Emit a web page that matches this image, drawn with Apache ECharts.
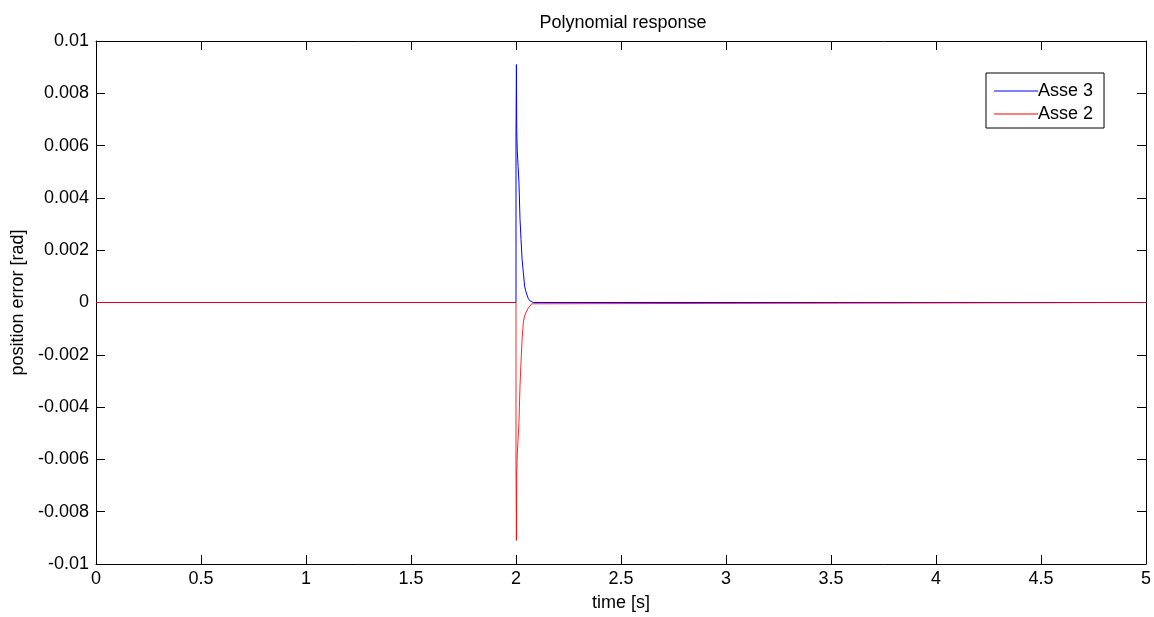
<!DOCTYPE html>
<html>
<head>
<meta charset="utf-8">
<script src="https://cdn.jsdelivr.net/npm/echarts@6/dist/echarts.min.js"></script>
<style>
  html, body { margin: 0; padding: 0; background: #fff; }
  #chart { width: 1154px; height: 617px; }
</style>
</head>
<body>
<div id="chart"></div>
<script>
// Sampled position error of the two axes around the step at t = 2 s
const timeAsse3 = [0, 2.0, 2.0, 2.002, 2.0035, 2.006, 2.010, 2.014, 2.019, 2.024, 2.029, 2.035, 2.041, 2.046, 2.051, 2.058, 2.067, 2.075, 2.083, 5];
const errAsse3  = [0, 0, 0.0063, 0.0091, 0.0066, 0.0058, 0.0052, 0.0046, 0.0032, 0.0024, 0.00165, 0.00114, 0.00063, 0.00045, 0.00032, 0.00016, 0.00006, 0.00002, 0, 0];

const timeAsse2 = [0, 2.0, 2.0, 2.002, 2.0035, 2.006, 2.010, 2.014, 2.019, 2.024, 2.029, 2.035, 2.041, 2.046, 2.051, 2.058, 2.067, 2.075, 2.083, 5];
const errAsse2  = [0, 0, -0.0062, -0.0091, -0.0066, -0.0058, -0.0052, -0.0046, -0.0032, -0.00227, -0.0014, -0.00075, -0.00052, -0.0004, -0.00037, -0.00022, -0.00013, -0.00005, 0, 0];

const seriesNames = ['Asse 3', 'Asse 2'];
const xTicks = { min: 0, max: 5, step: 0.5 };
const yTicks = { min: -0.01, max: 0.01, step: 0.002 };

const zip = (xs, ys) => xs.map((x, i) => [x, ys[i]]);
const fontFamily = 'Liberation Sans, Arial, sans-serif';
const txt = { color: '#000', fontFamily: fontFamily, fontSize: 18 };

const tickStyle = { inside: true, length: 9, lineStyle: { color: '#000', width: 1 } };
const lineStyle = { show: true, onZero: false, lineStyle: { color: '#000', width: 1 } };

const chart = echarts.init(document.getElementById('chart'), null, { renderer: 'canvas' });
chart.setOption({
  animation: false,
  backgroundColor: '#fff',
  title: {
    text: 'Polynomial response',
    left: 618, top: 9, textAlign: 'center',
    textStyle: Object.assign({ fontWeight: 'normal' }, txt)
  },
  legend: {
    orient: 'vertical',
    left: 986, top: 73,
    padding: [9, 11, 5, 8],
    itemGap: 5,
    itemWidth: 44, itemHeight: 1,
    icon: 'rect',
    borderColor: '#000', borderWidth: 1,
    backgroundColor: '#fff',
    textStyle: Object.assign({ padding: [0, 0, 0, -5] }, txt),
    data: seriesNames
  },
  grid: { left: 96, top: 41, width: 1050, height: 526, containLabel: false },
  xAxis: [{
    type: 'value', min: xTicks.min, max: xTicks.max, interval: xTicks.step,
    position: 'bottom',
    name: 'time [s]', nameLocation: 'middle', nameGap: 30,
    nameTextStyle: txt,
    axisLine: lineStyle, axisTick: tickStyle,
    axisLabel: Object.assign({ margin: 6, formatter: v => String(parseFloat(v.toFixed(2))) }, txt),
    splitLine: { show: false }
  }, {
    type: 'value', min: xTicks.min, max: xTicks.max, interval: xTicks.step,
    position: 'top',
    axisLine: lineStyle, axisTick: tickStyle,
    axisLabel: { show: false }, splitLine: { show: false }
  }],
  yAxis: [{
    type: 'value', min: yTicks.min, max: yTicks.max, interval: yTicks.step,
    position: 'left',
    name: 'position error [rad]', nameLocation: 'middle', nameGap: 67,
    nameTextStyle: txt,
    axisLine: lineStyle, axisTick: tickStyle,
    axisLabel: Object.assign({ margin: 7, formatter: v => String(parseFloat(v.toFixed(3))) }, txt),
    splitLine: { show: false }
  }, {
    type: 'value', min: yTicks.min, max: yTicks.max, interval: yTicks.step,
    position: 'right',
    axisLine: lineStyle, axisTick: tickStyle,
    axisLabel: { show: false }, splitLine: { show: false }
  }],
  series: [{
    name: seriesNames[0], type: 'line', showSymbol: false, symbol: 'none',
    color: '#0000ff', lineStyle: { width: 1, color: '#0000ff' },
    data: zip(timeAsse3, errAsse3)
  }, {
    name: seriesNames[1], type: 'line', showSymbol: false, symbol: 'none',
    color: '#ff0000', lineStyle: { width: 1, color: '#ff0000', opacity: 0.85 },
    data: zip(timeAsse2, errAsse2)
  }]
});
</script>
</body>
</html>
